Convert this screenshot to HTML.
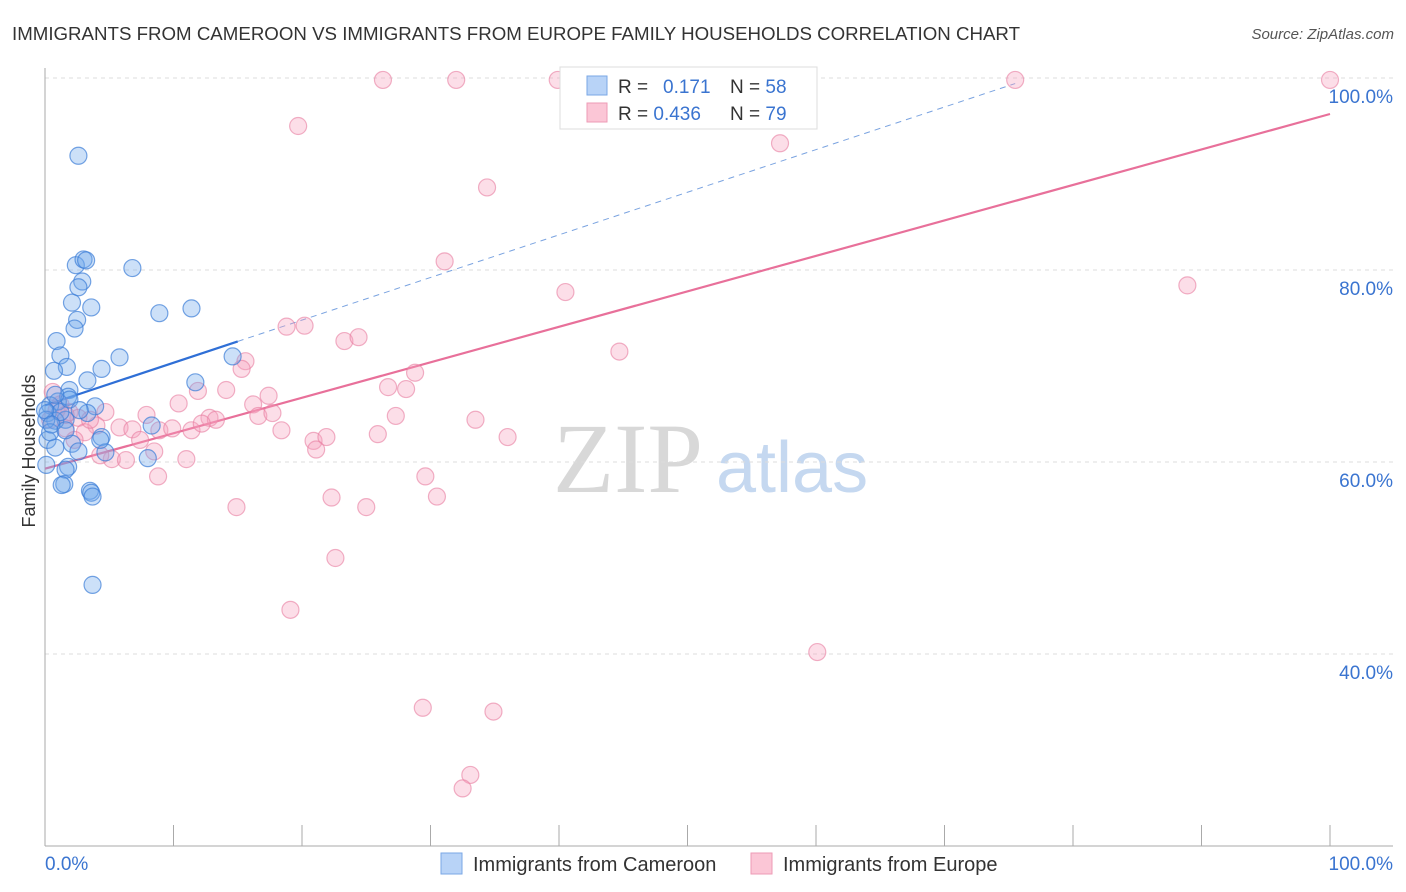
<!DOCTYPE html>
<html><head><meta charset="utf-8"><style>
body{margin:0;background:#fff;font-family:"Liberation Sans",sans-serif;}
svg{display:block}
</style></head><body>
<svg width="1406" height="892" xmlns="http://www.w3.org/2000/svg">
<text x="12" y="40" font-size="18" fill="#333" textLength="1008" lengthAdjust="spacingAndGlyphs">IMMIGRANTS FROM CAMEROON VS IMMIGRANTS FROM EUROPE FAMILY HOUSEHOLDS CORRELATION CHART</text>
<text x="1394" y="39" font-size="15" fill="#555" font-style="italic" text-anchor="end">Source: ZipAtlas.com</text>
<g>
<text x="553" y="492" font-size="100" fill="#d8d8d8" font-family="Liberation Serif,serif">ZIP</text>
<text x="716" y="492" font-size="72" fill="#c5d8f0">atlas</text>
</g>
<g id="grid"></g>
<g id="axes"></g>
<g id="trend"></g>
<g id="pts"></g>
<text x="40" y="456" font-size="18" fill="#333" text-anchor="middle" transform="rotate(-90 35 456)">Family Households</text>
<g>
<rect x="560" y="67" width="257" height="62" fill="#fff" stroke="#ddd"/>
<rect x="587" y="76" width="20" height="19" fill="#b8d3f7" stroke="#7aa7e6"/>
<rect x="587" y="103" width="20" height="19" fill="#fbc6d6" stroke="#ee9bb6"/>
<text x="618" y="93" font-size="19" fill="#333">R = <tspan x="663" fill="#3a74d0">0.171</tspan></text>
<text x="730" y="93" font-size="19" fill="#333">N = <tspan fill="#3a74d0">58</tspan></text>
<text x="618" y="120" font-size="19" fill="#333">R = <tspan fill="#3a74d0">0.436</tspan></text>
<text x="730" y="120" font-size="19" fill="#333">N = <tspan fill="#3a74d0">79</tspan></text>
</g>
<g>
<rect x="441" y="853" width="21" height="21" fill="#b8d3f7" stroke="#7aa7e6"/>
<text x="473" y="871" font-size="20" fill="#333">Immigrants from Cameroon</text>
<rect x="751" y="853" width="21" height="21" fill="#fbc6d6" stroke="#ee9bb6"/>
<text x="783" y="871" font-size="20" fill="#333">Immigrants from Europe</text>
</g>
</svg>
<script>
const yTicks=[40,60,80,100];
const yTickLabels=["40.0%","60.0%","80.0%","100.0%"];
const xTicks=[0,10,20,30,40,50,60,70,80,90,100];
const blueX=[2.6,2.4,3.0,3.2,6.8,2.9,2.6,2.1,3.6,2.5,2.3,0.9,1.2,5.8,8.9,11.4,1.7,0.7,4.4,3.3,1.9,11.7,14.6,1.8,1.0,0.4,3.9,0.2,3.3,1.6,0.8,8.3,4.4,0.2,2.1,0.8,2.6,4.7,8.0,0.1,1.8,1.6,1.5,1.3,3.5,3.6,3.7,3.7,0.1,0.4,1.2,1.9,2.7,4.3,0.8,0.0,0.5,1.6];
const blueY=[91.9,80.5,81.1,81.0,80.2,78.8,78.2,76.6,76.1,74.8,73.9,72.6,71.1,70.9,75.5,76.0,69.9,69.5,69.7,68.5,67.5,68.3,71.0,66.8,66.3,65.9,65.8,65.1,65.1,64.4,64.3,63.8,62.6,62.3,61.9,61.5,61.1,61.0,60.4,59.7,59.5,59.2,57.7,57.6,57.0,56.8,56.4,47.2,64.4,63.1,65.2,66.5,65.4,62.3,67.0,65.4,63.9,63.3];
const pinkX=[26.3,32.0,39.9,47.5,57.2,75.5,100,19.7,34.4,57.2,31.1,40.5,88.9,44.7,18.8,20.2,23.3,24.4,15.6,15.3,14.1,11.9,26.7,28.1,28.8,17.4,16.2,27.3,33.5,10.4,7.9,4.7,0.6,1.2,1.9,2.6,4.0,5.8,6.8,8.9,9.9,11.4,12.8,13.3,12.2,16.6,17.7,18.4,20.9,21.9,21.1,25.9,36.0,8.5,5.2,6.3,11.0,8.8,29.6,30.5,22.3,25.0,14.9,22.6,19.1,60.1,29.4,34.9,33.1,32.5,0.4,1.6,3.1,0.9,2.3,4.3,1.6,3.5,7.4];
const pinkY=[99.8,99.8,99.8,99.8,99.8,99.8,99.8,95.0,88.6,93.2,80.9,77.7,78.4,71.5,74.1,74.2,72.6,73.0,70.5,69.7,67.5,67.4,67.8,67.6,69.3,66.9,66.0,64.8,64.4,66.1,64.9,65.2,67.3,66.0,65.2,64.6,63.8,63.6,63.4,63.3,63.5,63.3,64.6,64.4,64.0,64.8,65.1,63.3,62.2,62.6,61.3,62.9,62.6,61.1,60.3,60.2,60.3,58.5,58.5,56.4,56.3,55.3,55.3,50.0,44.6,40.2,34.4,34.0,27.4,26.0,64.4,63.5,63.1,65.4,62.3,60.7,64.9,64.4,62.3];
const blueTrend=[65.9,0.444];
const pinkTrend=[59.3,0.3695];
const NS="http://www.w3.org/2000/svg";
const X0=45,X1=1330,Y0=846,Y1=78,YMIN=20,YMAX=100;
const sx=v=>X0+(X1-X0)*v/100;
const sy=v=>Y0-(Y0-Y1)*(v-YMIN)/(YMAX-YMIN);
function mk(tag,attrs,parent){const e=document.createElementNS(NS,tag);for(const k in attrs)e.setAttribute(k,attrs[k]);parent.appendChild(e);return e;}
const grid=document.getElementById('grid'),axes=document.getElementById('axes'),trend=document.getElementById('trend'),pts=document.getElementById('pts');
yTicks.forEach((t,i)=>{
 const l=mk('line',{x1:X0,x2:1393,y1:sy(t),y2:sy(t),stroke:'#ddd','stroke-dasharray':'4,4'},grid);
 
 
 const tx=mk('text',{x:1393,y:sy(t)+25,'font-size':19,fill:'#3a74d0','text-anchor':'end'},grid);
 tx.textContent=yTickLabels[i];
 
 
});
let a=mk('line',{x1:X0,x2:X0,y1:68,y2:Y0,stroke:'#aaa'},axes);


a=mk('line',{x1:X0,x2:1393,y1:Y0,y2:Y0,stroke:'#aaa'},axes);


xTicks.forEach(t=>{
 const l=mk('line',{x1:sx(t),x2:sx(t),y1:Y0-21,y2:Y0,stroke:'#aaa'},axes);
 
 
});
let t0=mk('text',{x:45,y:870,'font-size':19,fill:'#3a74d0'},axes);t0.textContent='0.0%';


let t1=mk('text',{x:1393,y:870,'font-size':19,fill:'#3a74d0','text-anchor':'end'},axes);t1.textContent='100.0%';


function drawPts(xs,ys,fill,stroke,name){xs.forEach((x,i)=>{
 const c=mk('circle',{cx:sx(x),cy:sy(ys[i]),r:8.5,fill:fill,stroke:stroke,'stroke-width':1.2},pts);
 
 
});}
drawPts(pinkX,pinkY,'rgba(246,160,188,0.35)','rgba(232,125,160,0.6)','europe-point');
drawPts(blueX,blueY,'rgba(110,165,235,0.35)','rgba(60,125,215,0.7)','cameroon-point');
let l=mk('line',{x1:sx(0),y1:sy(blueTrend[0]),x2:sx(15),y2:sy(blueTrend[0]+15*blueTrend[1]),stroke:'#2f6fd6','stroke-width':2.2},trend);


l=mk('line',{x1:sx(15),y1:sy(blueTrend[0]+15*blueTrend[1]),x2:sx(75.5),y2:sy(blueTrend[0]+75.5*blueTrend[1]),stroke:'#7aa3e0','stroke-width':1,'stroke-dasharray':'6,5'},trend);


l=mk('line',{x1:sx(0),y1:sy(pinkTrend[0]),x2:sx(100),y2:sy(pinkTrend[0]+100*pinkTrend[1]),stroke:'#e8709a','stroke-width':2.2},trend);


</script>
</body></html>
